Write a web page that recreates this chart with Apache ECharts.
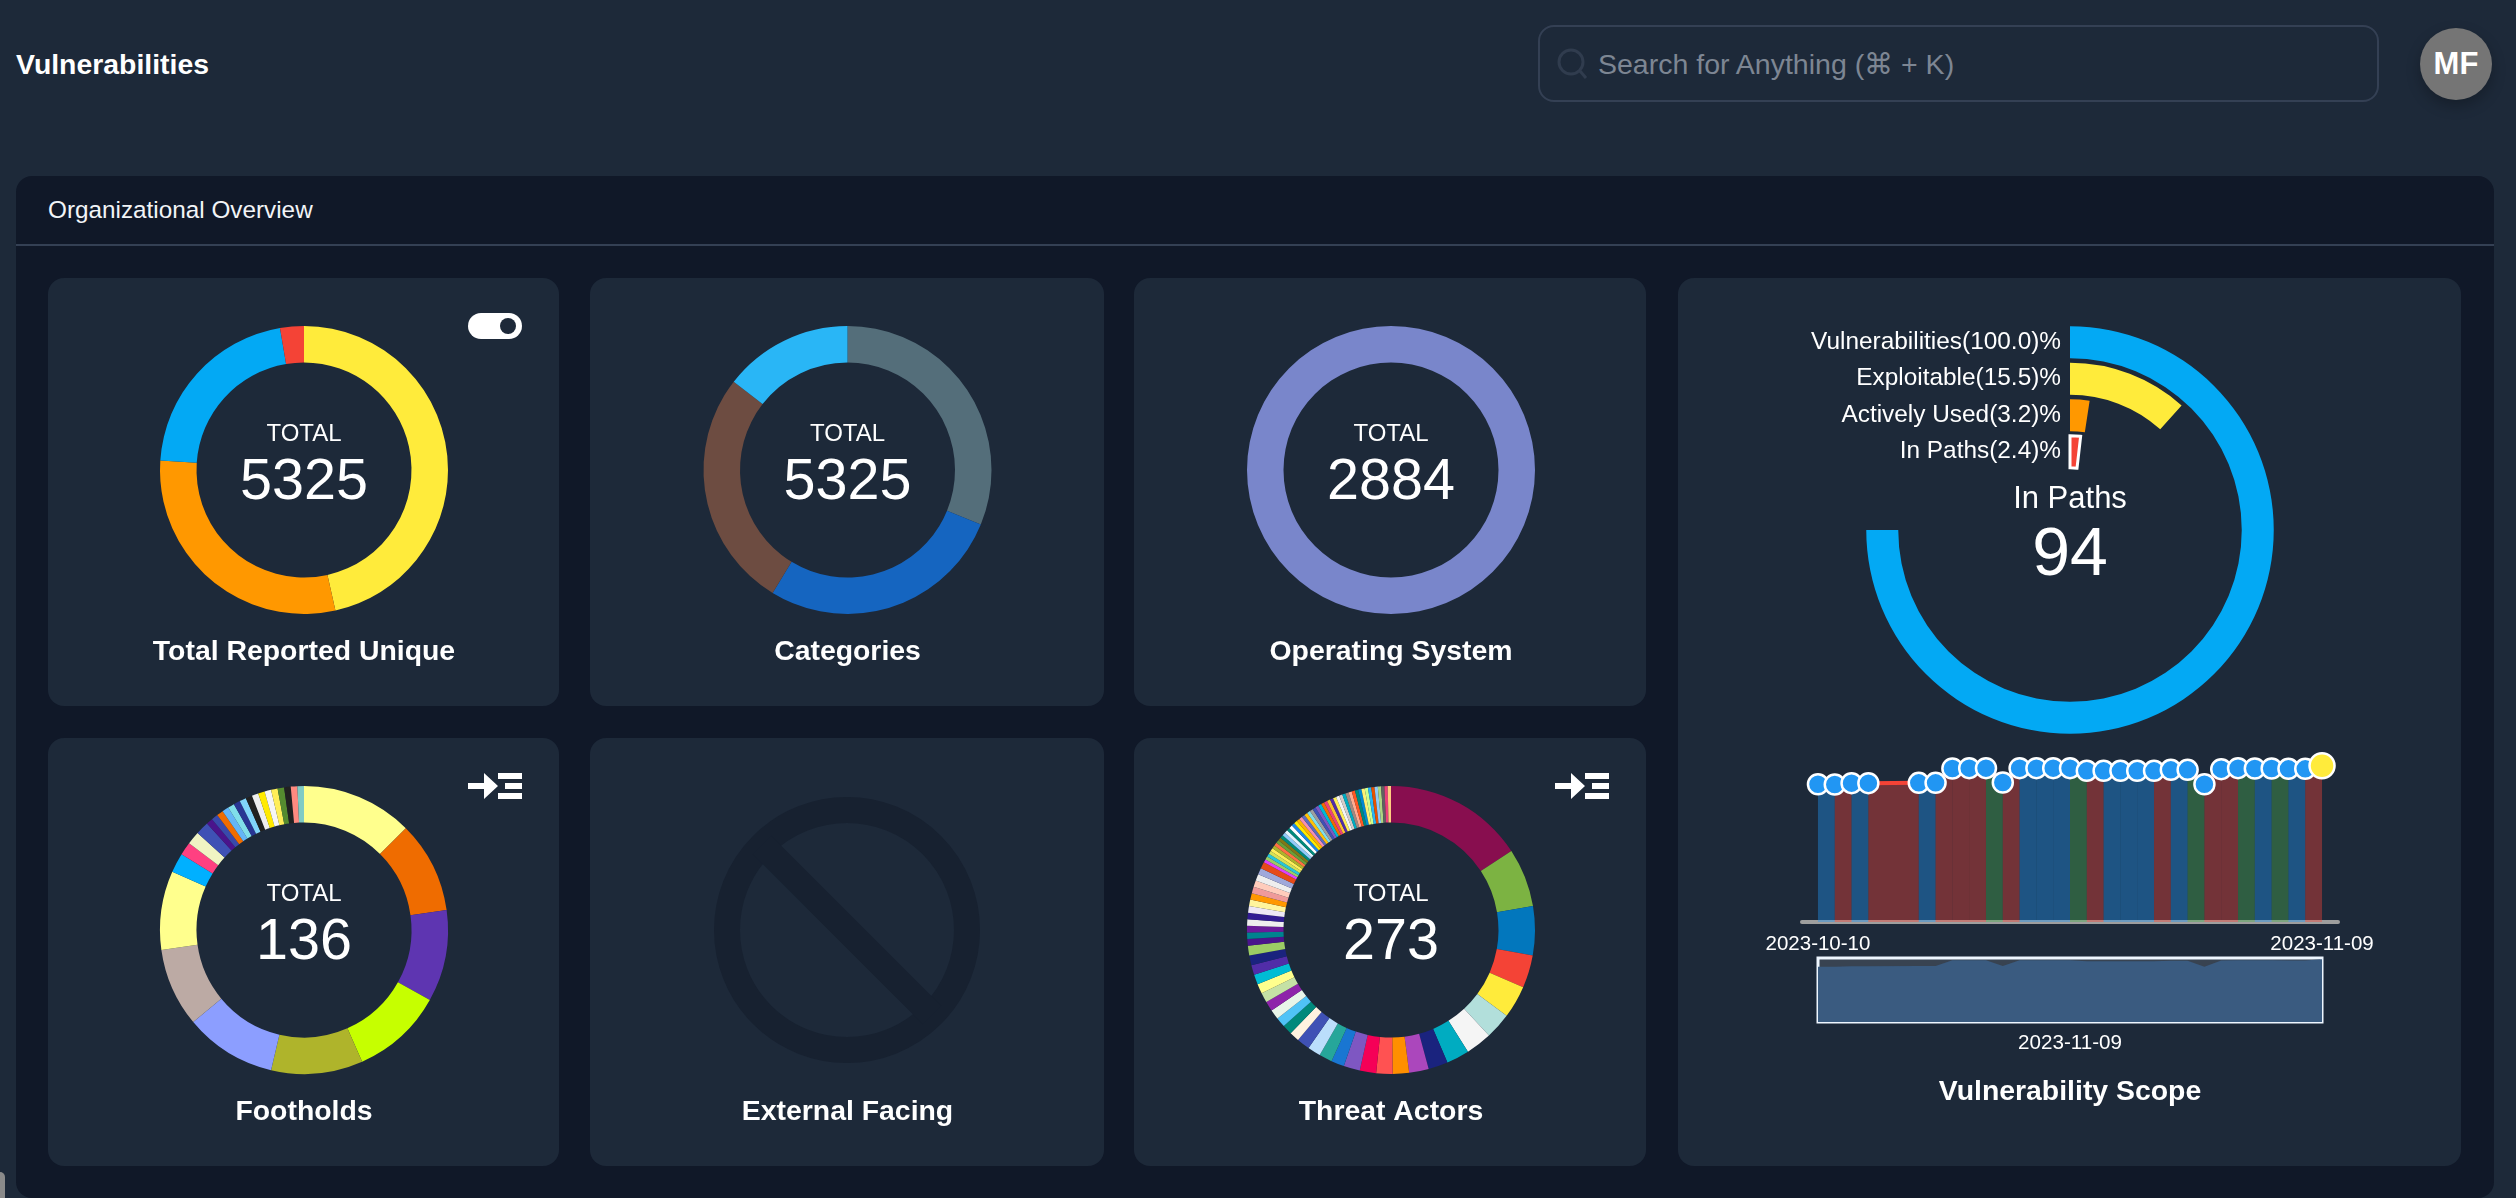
<!DOCTYPE html>
<html>
<head>
<meta charset="utf-8">
<title>Vulnerabilities</title>
<script src="https://cdn.jsdelivr.net/npm/echarts@6/dist/echarts.min.js"></script>
<style>
  html, body { margin: 0; padding: 0; width: 2516px; height: 1198px; overflow: hidden; background: #1d2939; font-family: "Liberation Sans", Arial, sans-serif; color: #fff; }
  .abs { position: absolute; }
  #pageTitle { left: 16px; top: 46px; font-size: 28.4px; font-weight: bold; line-height: 36px; }
  #search { left: 1538px; top: 25px; width: 837px; height: 73px; border: 2px solid #344054; border-radius: 16px; }
  #searchText { left: 1598px; top: 46px; font-size: 28.5px; line-height: 36px; color: #7d8693; white-space: nowrap; }
  #avatar { left: 2420px; top: 28px; width: 72px; height: 72px; border-radius: 50%; background: #757575; box-shadow: 0 6px 14px rgba(0,0,0,.25); text-align: center; line-height: 72px; font-size: 31px; font-weight: bold; }
  #panel { left: 16px; top: 176px; width: 2478px; height: 1022px; background: #101828; border-radius: 16px; }
  #panelTitle { left: 48px; top: 194px; font-size: 24.3px; line-height: 32px; color: #f2f4f7; }
  #panelRule { left: 16px; top: 244px; width: 2478px; height: 2px; background: #344054; }
  .card { position: absolute; background: #1d2939; border-radius: 16px; }
  #toggle { left: 468px; top: 313px; width: 54px; height: 26px; border-radius: 13px; background: #fff; }
  #toggle i { position: absolute; left: 32px; top: 5px; width: 16px; height: 16px; border-radius: 50%; background: #1d2939; }
  #edge { left: 0; top: 1172px; width: 5px; height: 26px; background: #8a8a8a; border-top-right-radius: 5px; }
  #chart { position: absolute; left: 0; top: 0; width: 2516px; height: 1198px; }
</style>
</head>
<body>
<div class="abs" id="pageTitle">Vulnerabilities</div>
<div class="abs" id="search"></div>
<svg class="abs" style="left:1556px;top:47px" width="34" height="34" viewBox="0 0 34 34"><circle cx="15" cy="15" r="12" fill="none" stroke="#303c4e" stroke-width="3"/><line x1="24" y1="24" x2="30" y2="31" stroke="#303c4e" stroke-width="3"/></svg>
<div class="abs" id="searchText">Search for Anything (⌘ + K)</div>
<div class="abs" id="avatar">MF</div>
<div class="abs" id="panel"></div>
<div class="abs" id="panelTitle">Organizational Overview</div>
<div class="abs" id="panelRule"></div>
<div class="card" style="left:48px;top:278px;width:511px;height:428px"></div>
<div class="card" style="left:590px;top:278px;width:514px;height:428px"></div>
<div class="card" style="left:1134px;top:278px;width:512px;height:428px"></div>
<div class="card" style="left:1678px;top:278px;width:783px;height:888px"></div>
<div class="card" style="left:48px;top:738px;width:511px;height:428px"></div>
<div class="card" style="left:590px;top:738px;width:514px;height:428px"></div>
<div class="card" style="left:1134px;top:738px;width:512px;height:428px"></div>
<div class="abs" id="toggle"><i></i></div>
<svg class="abs" style="left:468px;top:773px" width="54" height="26"><path d="M0 10H16V0L30 13L16 26V16H0Z M30 0H54V6H30Z M37 10H54V16H37Z M30 20H54V26H30Z" fill="#fff"/></svg>
<svg class="abs" style="left:1555px;top:773px" width="54" height="26"><path d="M0 10H16V0L30 13L16 26V16H0Z M30 0H54V6H30Z M37 10H54V16H37Z M30 20H54V26H30Z" fill="#fff"/></svg>
<svg class="abs" style="left:714px;top:797px" width="266" height="266" viewBox="0 0 266 266"><circle cx="133" cy="133" r="120" fill="none" stroke="#172130" stroke-width="26"/><line x1="48" y1="48" x2="218" y2="218" stroke="#172130" stroke-width="26"/></svg>
<div class="abs" id="edge"></div>
<div id="chart"></div>
<script>
// donuts, clockwise from 12 o'clock
var reportedValues = [2476, 1574, 1133, 142];
var reportedColors = ['#ffeb3b', '#ff9800', '#03a9f4', '#f44336'];
var categoryValues = [1660, 1466, 1427, 772];
var categoryColors = ['#546e7a', '#1565c0', '#6d4c41', '#29b6f6'];
var osValues = [2884];
var osColors = ['#7986cb'];
var footholdValues = [17, 14, 14, 14, 14, 14, 12, 12, 3, 2, 2, 2, 1, 1, 1, 1, 1, 1, 1, 1, 1, 1, 1, 1, 1, 1, 1, 1];
var footholdColors = ['#ffff8d', '#ef6c00', '#5e35b1', '#c6ff00', '#afb42b', '#8c9eff', '#bcaaa4', '#ffff8d', '#00b0ff', '#ff4081', '#f0f4c3', '#3f51b5', '#4a148c', '#3949ab', '#ef6c00', '#64b5f6', '#80deea', '#283593', '#81d4fa', '#212121', '#eeeeee', '#ffea00', '#f5f5f5', '#ffee58', '#558b2f', '#212121', '#ff8a80', '#80cbc4'];
var threatValues = [43, 18, 15, 10, 10, 8, 8, 7, 6, 6, 5, 5, 5, 5, 4, 4, 4, 4, 3, 3, 3, 3, 3,
  3, 3, 3, 3, 3, 3, 2, 2, 2, 2, 2, 2, 2, 2, 2, 2, 2, 2, 2,
  1, 1, 1, 1, 1, 1, 1, 1, 1, 1, 1, 1, 1, 1, 1, 1, 1, 1, 1, 1, 1, 1, 1, 1,
  1, 1, 1, 1, 1, 1, 1, 1, 1, 1, 1, 1, 1, 1, 1, 1, 1, 1, 1, 1, 1, 1, 1];
var threatColors = ['#880e4f', '#7cb342', '#0277bd', '#f44336', '#ffeb3b', '#b2dfdb', '#f5f5f5', '#00acc1', '#1a237e', '#ab47bc', '#ff8f00', '#ff5252', '#f50057', '#7e57c2', '#1976d2', '#26a69a', '#bbdefb', '#3f51b5', '#fff3e0', '#00897b', '#4fc3f7', '#e8f5e9', '#8e24aa',
  '#c5e1a5', '#ffff8d', '#00bcd4', '#512da8', '#1a237e', '#9ccc65', '#4a148c', '#00838f', '#6a1b9a', '#eeeeee', '#311b92', '#ede7f6', '#fff59d', '#ff9800', '#ef9a9a', '#ffccbc', '#eeeeee', '#9fa8da', '#e64a19',
  '#e040fb', '#9ccc65', '#26c6da', '#d4e157', '#ffee58', '#afb42b', '#ff7043', '#689f38', '#827717', '#00897b', '#90caf9', '#e3f2fd', '#00897b', '#ffffff', '#1e88e5', '#ffea00', '#ffb300', '#f48fb1', '#5c6bc0', '#ffc107', '#80deea', '#9e9e9e', '#3f51b5', '#7e57c2', '#00b8d4',
  '#ef6c00', '#ec407a', '#fbc02d', '#512da8', '#ffee58', '#f5f5f5', '#d7ccc8', '#00acc1', '#a1887f', '#ffab91', '#ff5722', '#00897b', '#0288d1', '#fff176', '#ccff90', '#29b6f6', '#e65100', '#90caf9', '#aed581', '#616161', '#ec407a', '#ffcc80'];
var donutNames = ['Total Reported Unique', 'Categories', 'Operating System', 'Footholds', 'External Facing', 'Threat Actors'];
var donutTotals = ['5325', '5325', '2884', '136', '', '273'];

// radial scope
var radialNames = ['Vulnerabilities', 'Exploitable', 'Actively Used', 'In Paths'];
var radialValues = [100, 15.5, 3.2, 2.4];
var radialColors = ['#03a9f4', '#ffeb3b', '#ff9800', '#f44336'];

// daily strip, no report on 10-14 and 10-15
var days = ['2023-10-10', '2023-10-11', '2023-10-12', '2023-10-13', '2023-10-14', '2023-10-15', '2023-10-16', '2023-10-17', '2023-10-18', '2023-10-19', '2023-10-20', '2023-10-21', '2023-10-22', '2023-10-23', '2023-10-24', '2023-10-25', '2023-10-26', '2023-10-27', '2023-10-28', '2023-10-29', '2023-10-30', '2023-10-31', '2023-11-01', '2023-11-02', '2023-11-03', '2023-11-04', '2023-11-05', '2023-11-06', '2023-11-07', '2023-11-08', '2023-11-09'];
var dayTotals = [4698, 4687, 4733, 4733, null, null, 4744, 4744, 5234, 5245, 5245, 4755, 5245, 5245, 5245, 5245, 5154, 5154, 5154, 5154, 5154, 5188, 5188, 4698, 5211, 5245, 5234, 5234, 5222, 5222, 5325];
// 0 up, 1 down, 2 flat: one tone per stretch between reported days
var dayTones = [0, 1, 0, 1, 0, 1, 1, 1, 2, 1, 0, 0, 0, 2, 1, 0, 0, 0, 1, 0, 2, 1, 1, 2, 0, 2, 0, 1];
var toneColors = ['rgba(33,150,243,0.4)', 'rgba(244,67,54,0.4)', 'rgba(76,175,80,0.4)'];

var font = '"Liberation Sans", Arial, sans-serif';
var centersX = [304, 847.5, 1391];
var centersY = [470, 930];

function label(text, x, y, size, weight) {
  return {
    text: text, left: x, top: y, textAlign: 'center', textVerticalAlign: 'middle', padding: 0,
    textStyle: { color: '#fff', fontFamily: font, fontSize: size, fontWeight: weight || 'normal' }
  };
}

function donut(values, colors, x, y) {
  return {
    type: 'pie', silent: true, animation: false, startAngle: 90, clockwise: true,
    center: [x, y], radius: [107.5, 144], label: { show: false }, labelLine: { show: false },
    data: values.map(function (v, i) { return { value: v, itemStyle: { color: colors[i] } }; })
  };
}

var titles = [];
donutNames.forEach(function (name, i) {
  var x = centersX[i % 3], row = i < 3 ? 0 : 1, y = centersY[row];
  titles.push(label(name, x, row ? 1112.5 : 652.5, 28.4, 'bold'));
  if (donutTotals[i]) {
    titles.push(label('TOTAL', x, y - 36, 24));
    titles.push(label(donutTotals[i], x, y + 13, 57.5));
  }
});
titles.push(label('In Paths', 2070, 499, 31));
titles.push(label('94', 2070, 556, 68));
titles.push(label('2023-11-09', 2070, 1043, 20.6));
titles.push(label('Vulnerability Scope', 2070, 1092.5, 28.4, 'bold'));

var reported = [];
dayTotals.forEach(function (v, i) { if (v !== null) reported.push(i); });
var stretches = dayTones.map(function (tone, k) {
  var a = reported[k], b = reported[k + 1];
  return [a, b, dayTotals[a], dayTotals[b], tone];
});

var chart = echarts.init(document.getElementById('chart'));
chart.setOption({
  animation: false,
  title: titles,
  polar: { center: [2070, 530], radius: [60, 206] },
  angleAxis: { show: false, min: 0, max: 100 / 0.75, startAngle: 90 },
  radiusAxis: {
    type: 'category', inverse: true,
    data: radialNames.map(function (n, i) { return n + '(' + radialValues[i].toFixed(1) + ')%'; }),
    axisLine: { show: false }, axisTick: { show: false }, z: 5,
    axisLabel: { color: '#fff', fontFamily: font, fontSize: 24.4, margin: 9, interval: 0, hideOverlap: false }
  },
  grid: [
    { left: 1802, width: 536, top: 746, height: 176 },
    { left: 1818, width: 504, top: 958, height: 64, show: true, backgroundColor: 'rgba(255,255,255,0.12)', borderColor: '#eef6ff', borderWidth: 3 }
  ],
  xAxis: [
    {
      type: 'value', gridIndex: 0, min: -0.95, max: 30.95,
      axisLine: { lineStyle: { color: '#9e9e9e', width: 4 } }, axisTick: { show: false }, splitLine: { show: false },
      axisLabel: {
        customValues: [0, days.length - 1], margin: 12, color: '#fff', fontFamily: font, fontSize: 20.5,
        formatter: function (v) { return days[v]; }
      }
    },
    { type: 'value', gridIndex: 1, show: false, min: 0, max: days.length - 1 }
  ],
  yAxis: [
    { type: 'value', gridIndex: 0, show: false, min: 0, max: 6000 },
    { type: 'value', gridIndex: 1, show: false, min: 0, max: 5430 }
  ],
  series: [
    donut(reportedValues, reportedColors, centersX[0], centersY[0]),
    donut(categoryValues, categoryColors, centersX[1], centersY[0]),
    donut(osValues, osColors, centersX[2], centersY[0]),
    donut(footholdValues, footholdColors, centersX[0], centersY[1]),
    donut(threatValues, threatColors, centersX[2], centersY[1]),
    {
      type: 'bar', coordinateSystem: 'polar', silent: true, barWidth: 32,
      data: radialValues.map(function (v, i) {
        var last = i === radialValues.length - 1;
        return { value: v, itemStyle: { color: radialColors[i], borderColor: last ? '#fff' : 'transparent', borderWidth: last ? 3 : 0 } };
      })
    },
    {
      type: 'custom', xAxisIndex: 0, yAxisIndex: 0, silent: true, data: stretches, z: 3,
      encode: { x: [0, 1], y: [2, 3] },
      renderItem: function (params, api) {
        var a = api.coord([api.value(0), api.value(2)]);
        var b = api.coord([api.value(1), api.value(3)]);
        var a0 = api.coord([api.value(0), 0]);
        var b0 = api.coord([api.value(1), 0]);
        return { type: 'polygon', shape: { points: [a0, a, b, b0] }, style: { fill: toneColors[api.value(4)] } };
      }
    },
    {
      type: 'line', xAxisIndex: 0, yAxisIndex: 0, silent: true, z: 4, connectNulls: true, symbol: 'circle', symbolSize: 20,
      lineStyle: { color: '#f44336', width: 4 },
      itemStyle: { color: '#2196f3', borderColor: '#fff', borderWidth: 2.5 },
      data: dayTotals.map(function (v, i) {
        if (i === dayTotals.length - 1) {
          return { value: [i, v], symbolSize: 25, itemStyle: { color: '#ffeb3b', borderColor: '#fff', borderWidth: 2.5 } };
        }
        return [i, v];
      })
    },
    {
      type: 'line', xAxisIndex: 1, yAxisIndex: 1, silent: true, connectNulls: true, showSymbol: false,
      lineStyle: { width: 0 }, areaStyle: { color: '#3a5b80', opacity: 1 },
      data: dayTotals.map(function (v, i) { return [i, v]; })
    }
  ]
});
</script>
</body>
</html>
